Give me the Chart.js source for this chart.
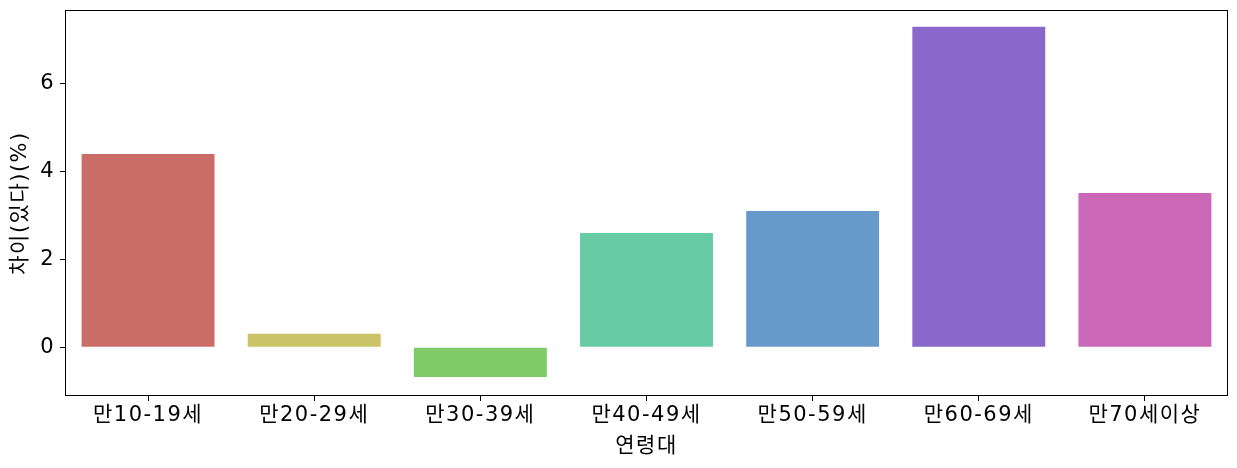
<!DOCTYPE html>
<html>
<head>
<meta charset="utf-8">
<script src="https://cdn.jsdelivr.net/npm/chart.js@4.4.1/dist/chart.umd.min.js"></script>
<style>
html,body{margin:0;padding:0;background:#fff;}
#wrap{width:1237px;height:468px;position:relative;}
</style>
</head>
<body>
<div id="wrap"><canvas id="c" width="1237" height="468"></canvas></div>
<script>
const categories = ["만10-19세","만20-29세","만30-39세","만40-49세","만50-59세","만60-69세","만70세이상"];
const values = [4.40, 0.31, -0.68, 2.60, 3.10, 7.30, 3.51];
const barColors = ["#CB6D67","#CBC367","#7ECB67","#67CBA6","#679ACB","#8A67CB","#CB67B7"];
const yTicks = [0, 2, 4, 6];
const xTitle = "연령대";
const yTitle = "차이(있다)(%)";

const FONT = "'DejaVu Sans', 'Noto Sans CJK KR', sans-serif";

const spacing = {
  id: 'spacing',
  beforeLayout(chart) { chart.ctx.letterSpacing = '1.5px'; },
  beforeDraw(chart) { chart.ctx.letterSpacing = '1.5px'; }
};

const frame = {
  id: 'frame',
  afterDraw(chart) {
    const a = chart.chartArea, ctx = chart.ctx;
    ctx.save();
    ctx.strokeStyle = '#000';
    ctx.lineWidth = 1;
    ctx.strokeRect(Math.round(a.left) + 0.5, Math.round(a.top) + 0.5, Math.round(a.right - a.left) - 1, Math.round(a.bottom - a.top) - 1);
    ctx.restore();
  }
};

new Chart(document.getElementById('c'), {
  type: 'bar',
  data: {
    labels: categories,
    datasets: [{
      data: values,
      backgroundColor: barColors,
      borderWidth: 0,
      barPercentage: 0.8,
      categoryPercentage: 1.0
    }]
  },
  options: {
    responsive: false,
    animation: false,
    devicePixelRatio: 1,
    layout: { padding: { top: 10, right: 9, left: 0, bottom: 0 } },
    plugins: { legend: { display: false }, tooltip: { enabled: false } },
    scales: {
      x: {
        offset: true,
        grid: { offset: false, drawOnChartArea: false, drawTicks: true, tickLength: 5, color: '#000', lineWidth: 1 },
        border: { display: false },
        ticks: { color: '#000', font: { family: FONT, size: 21 }, padding: 2, maxRotation: 0, autoSkip: false },
        title: { display: true, text: xTitle, color: '#000', font: { family: FONT, size: 21 }, padding: { top: 0, bottom: 9 } },
        afterFit(s) { s.height = 72; s.paddingLeft = 0; s.paddingRight = 0; }
      },
      y: {
        min: -1.11,
        max: 7.68,
        grid: { drawOnChartArea: false, drawTicks: true, tickLength: 5, color: '#000', lineWidth: 1 },
        border: { display: false },
        afterBuildTicks(s) { s.ticks = yTicks.map(v => ({ value: v })); },
        ticks: { color: '#000', font: { family: FONT, size: 21 }, padding: 5, includeBounds: false },
        title: { display: true, text: yTitle, color: '#000', font: { family: FONT, size: 21 }, padding: { top: 8, bottom: 0 } },
        afterFit(s) { s.width = 65; s.paddingTop = 0; s.paddingBottom = 0; }
      }
    }
  },
  plugins: [spacing, frame]
});
</script>
</body>
</html>
